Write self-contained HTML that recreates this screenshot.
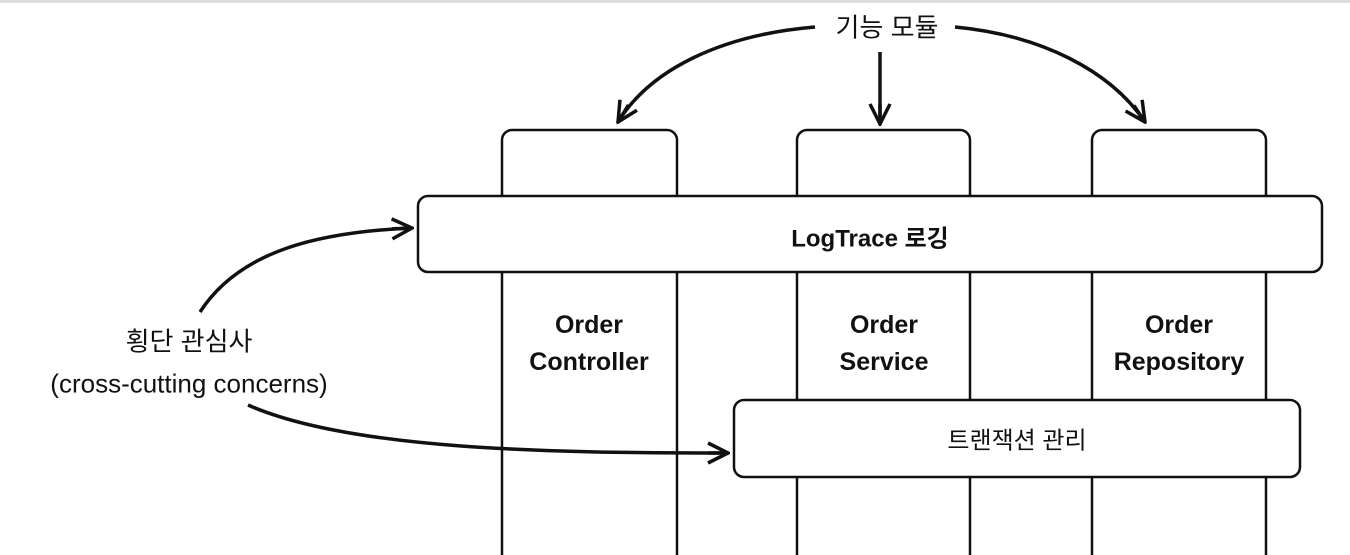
<!DOCTYPE html>
<html><head><meta charset="utf-8"><style>
body{margin:0;width:1350px;height:555px;background:#fff;overflow:hidden;position:relative;font-family:"Liberation Sans","Noto Sans CJK KR",sans-serif;}
.t{position:absolute;color:#111;white-space:nowrap;transform:translate(-50%,-50%);}
</style></head><body>
<svg width="1350" height="555" style="position:absolute;left:0;top:0">
<defs><marker id="a" markerWidth="10" markerHeight="10" refX="8" refY="5" orient="auto" markerUnits="userSpaceOnUse" viewBox="0 0 10 10"><path d="M0,0 L10,5 L0,10 L3,5 Z" fill="#111"/></marker>
<marker id="b" markerWidth="24" markerHeight="24" refX="22" refY="12" orient="auto" markerUnits="userSpaceOnUse" viewBox="0 0 24 24"><path d="M2,2 L22,12 L2,22 M22,12 L2,12" fill="none" stroke="#111" stroke-width="3.5"/></marker></defs>
<rect x="0" y="0" width="1350" height="3" fill="#ddd"/>
<g fill="#fff" stroke="#111" stroke-width="2.5">
<rect x="502" y="130" width="175" height="440" rx="10"/>
<rect x="797" y="130" width="173" height="440" rx="10"/>
<rect x="1092" y="130" width="174" height="440" rx="10"/>
<rect x="418" y="196" width="904" height="76" rx="10"/>
<rect x="734" y="400" width="566" height="77" rx="10"/>
</g>
<g fill="none" stroke="#111" stroke-width="3.5">
<path d="M815,27 C720,35 650,70 618,122" marker-end="url(#b)"/>
<path d="M955,27 C1040,35 1110,70 1145,122" marker-end="url(#b)"/>
<path d="M880,52 L880,124" marker-end="url(#b)"/>
<path d="M200,312 C240,250 320,232 412,228" marker-end="url(#b)"/>
<path d="M248,405 C350,450 550,453 728,453" marker-end="url(#b)"/>
</g>
</svg>
<div class="t" style="left:887px;top:26px;font-size:26px">기능 모듈</div>
<div class="t" style="left:870px;top:236px;font-size:24px;font-weight:bold">LogTrace 로깅</div>
<div class="t" style="left:589px;top:344px;font-size:25px;font-weight:bold;text-align:center;line-height:37px">Order<br>Controller</div>
<div class="t" style="left:884px;top:344px;font-size:25px;font-weight:bold;text-align:center;line-height:37px">Order<br>Service</div>
<div class="t" style="left:1179px;top:344px;font-size:25px;font-weight:bold;text-align:center;line-height:37px">Order<br>Repository</div>
<div class="t" style="left:1017px;top:438px;font-size:24px">트랜잭션 관리</div>
<div class="t" style="left:189px;top:340px;font-size:26px">횡단 관심사</div>
<div class="t" style="left:189px;top:384px;font-size:26px">(cross-cutting concerns)</div>
</body></html>
